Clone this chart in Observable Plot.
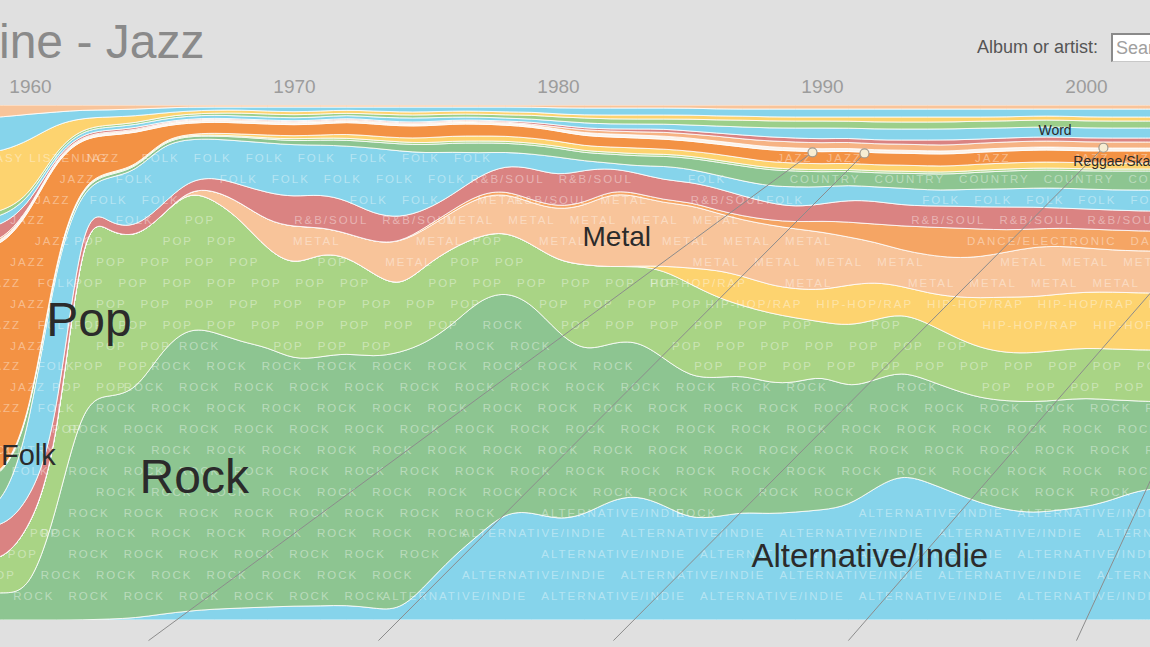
<!DOCTYPE html>
<html>
<head>
<meta charset="utf-8">
<script src="https://cdn.jsdelivr.net/npm/d3@7"></script>
<script src="https://cdn.jsdelivr.net/npm/@observablehq/plot@0.6"></script>
<style>
html,body{margin:0;padding:0;background:#e0e0e0;overflow:hidden;}
#wrap{position:relative;width:1150px;height:647px;overflow:hidden;font-family:'Liberation Sans',Arial,sans-serif;}
#chart{position:absolute;left:0;top:0;}
#title{position:absolute;left:-1px;top:18px;font-size:48px;line-height:48px;color:#8a8a8a;white-space:nowrap;}
#search{position:absolute;left:977px;top:38px;font-size:18px;line-height:18px;color:#555;white-space:nowrap;}
#box{position:absolute;left:1111px;top:33px;width:60px;height:26px;background:#fff;border-top:2px solid #8a8a8a;border-left:2px solid #8a8a8a;border-bottom:1px solid #c8c8c8;font-size:18px;line-height:26px;color:#a0a0a0;padding-left:3px;white-space:nowrap;overflow:hidden;}
</style>
</head>
<body>
<div id="wrap">
  <div id="chart"></div>
  <div id="title">ine - Jazz</div>
  <div id="search">Album or artist:</div>
  <div id="box">Search</div>
</div>
<script>
// ---- data (relative share of each genre per year, bottom to top of the stack) ----
const years = [1958,1959,1960,1961,1962,1963,1964,1965,1966,1967,1968,1969,1970,1971,1972,1973,1974,1975,1976,1977,1978,1979,1980,1981,1982,1983,1984,1985,1986,1987,1988,1989,1990,1991,1992,1993,1994,1995,1996,1997,1998,1999,2000,2001,2002,2003];

const altIndie = [0,0,0,0,0,1,2,6,9,11,12,13,14,14,15,12,9,35,63,85,108,108,100,105,120,125,115,101,103,108,106,108,110,114,132,146,138,127,117,110,107,110,113,120,130,132];
const rock = [27,27,28,108,220,223,226,264,284,277,266,260,246,249,252,251,258,242,232,235,221,209,187,163,157,155,147,142,139,137,131,129,135,118,108,103,102,103,105,109,111,110,109,100,89,86];
const pop = [33,33,64,57,188,164,154,134,137,132,122,97,94,104,97,83,65,78,77,64,60,59,72,87,76,74,88,93,81,69,70,65,53,62,60,58,57,53,50,48,49,50,50,51,51,52];
const hipHop = [0,0,0,0,0,0,0,0,0,0,0,0,0,0,0,0,0,0,0,0,0,0,0,0,0,0,4,16,27,30,28,29,32,41,38,27,30,40,50,56,56,56,56,57,57,57];
const metal = [0,0,0,0,0,0,0,0,1,10,17,29,39,26,23,32,45,36,36,39,38,41,51,59,74,70,63,63,57,56,60,60,58,48,40,36,38,39,41,45,50,48,44,42,42,42];
const dance = [0,0,0,0,0,0,0,0,0,0,0,0,0,0,0,0,0,2,2,3,3,3,3,3,3,3,3,3,3,4,5,7,11,15,18,24,28,30,28,22,18,18,19,20,20,20];
const rnbSoul = [33,33,28,25,11,8,10,11,9,13,18,28,30,33,33,28,25,17,15,18,25,32,31,33,22,20,20,20,22,20,17,15,17,22,23,21,21,22,22,23,22,20,20,20,20,20];
const folk = [15,22,72,172,14,47,56,60,41,38,44,50,52,49,54,66,67,57,43,23,13,14,19,9,5,7,14,13,13,15,17,20,17,15,14,17,16,16,18,18,19,20,20,20,21,21];
const country = [30,29,8,5,3,3,3,3,3,3,4,4,4,5,6,6,7,8,9,10,9,9,9,8,9,10,10,11,13,15,16,16,15,14,14,15,16,16,17,18,18,18,18,19,19,19];
const childrens = [1,1,1,1,1,1,1,1,1,1,1,1,2,2,2,2,2,2,2,2,2,2,2,2,2,2,2,2,2,2,2,2,2,2,2,2,2,2,2,2,2,2,2,2,2,2];
const vocal = [1,1,1,1,1,1,1,1,1,2,2,3,3,3,4,4,4,5,5,5,5,5,5,5,5,6,5,5,6,6,6,6,6,6,6,6,6,6,6,6,6,6,6,6,6,6];
const jazz = [230,229,206,91,44,37,34,14,11,11,11,11,11,11,12,12,12,12,12,12,11,11,10,10,10,10,10,10,10,11,12,12,12,12,12,12,12,12,12,12,12,12,12,12,12,12];
const reggaeSka = [3,3,3,2,2,2,2,2,2,2,2,2,2,2,2,2,2,2,2,2,2,2,2,3,3,3,3,3,3,3,3,3,3,3,3,3,3,3,3,3,3,3,3,3,3,3];
const soundtrack = [2,2,1,1,1,1,1,1,1,1,1,1,1,1,1,1,1,1,1,1,1,1,2,3,3,3,4,4,5,5,6,6,6,6,6,6,6,6,6,6,6,6,6,6,6,6];
const blues = [15,15,5,2,2,2,2,1,1,1,1,1,1,1,1,1,1,1,1,1,1,2,2,2,2,3,3,3,3,4,4,4,4,4,4,4,5,5,4,4,4,4,4,4,4,4];
const world = [9,9,5,3,3,3,3,3,3,3,3,3,3,3,3,3,4,4,3,3,3,3,4,5,5,5,5,6,7,8,9,10,11,10,11,11,11,11,11,10,10,10,10,10,10,10];
const christian = [5,5,3,3,2,2,2,2,2,2,3,3,3,3,2,3,3,3,3,3,3,4,4,5,5,5,5,6,6,7,7,7,7,7,7,7,7,7,7,7,7,7,7,7,7,7];
const easyListening = [62,60,55,25,10,8,7,4,3,3,3,3,3,3,3,3,3,3,3,3,3,3,3,3,4,4,4,4,4,4,4,4,4,4,5,5,5,5,4,4,4,4,4,4,4,4];
const classical = [36,34,26,12,8,7,7,5,4,3,3,4,5,4,3,4,5,5,4,4,5,5,6,7,7,7,7,7,7,7,8,8,8,8,8,8,8,8,8,8,7,7,8,8,8,8];
const oldies = [13,12,9,7,5,5,4,3,2,2,2,2,2,2,2,2,2,2,2,2,2,2,3,3,3,3,3,3,4,4,4,4,4,4,4,4,4,4,4,4,4,4,4,4,4,4];

const genres = ["Alternative/Indie","Rock","Pop","Hip-Hop/Rap","Metal","Dance/Electronic","R&B/Soul","Folk","Country","Children's","Vocal","Jazz","Reggae/Ska","Soundtrack","Blues","World","Christian/Gospel","Easy Listening","Classical","Oldies"];
const genreColors = ["#86d4eb","#8dc591","#a9d485","#fdd36f","#f8c49a","#f5a564","#da8382","#86d4eb","#8dc591","#a9d485","#fdd36f","#f39244","#fcf3ea","#f6b384","#da8382","#86d4eb","#9ccf8a","#fdd36f","#86d4eb","#f8c49a"];
const series = [altIndie,rock,pop,hipHop,metal,dance,rnbSoul,folk,country,childrens,vocal,jazz,reggaeSka,soundtrack,blues,world,christian,easyListening,classical,oldies];

const yearTicks = [1960,1970,1980,1990,2000];

// big in-chart labels
const labelText = ["Pop","Rock","Folk","Metal","Alternative/Indie","Word","Reggae/Ska"];
const labelYear = [1960.6,1964.13,1958.88,1980.91,1987.31,1998.18,1999.5];
const labelShare = [0.583,0.2765,0.319,0.744,0.1235,0.9505,0.8903];
const labelSize = [48,48,29,28,33,14,14];

// album pins and their leader lines
const pinYear = [1989.62,1991.59,2000.64,2007.12,2008.2];
const pinShare = [0.909,0.907,0.918,0.913,0.913];
const anchorYear = [1964.47,1973.18,1982.08,1990.98,1999.62];
const anchorShare = -0.039;

// ---- build tables ----
const table = [];
genres.forEach((g, gi) => years.forEach((yr, i) => table.push({year: yr, genre: g, value: series[gi][i]})));

const totals = years.map((_, i) => series.reduce((s, a) => s + a[i], 0));
const lower = series.map((_, gi) => years.map((_, i) => series.slice(0, gi).reduce((s, a) => s + a[i], 0) / totals[i]));
function band(gi, x) {
  const t = Math.max(0, Math.min(years.length - 1.0001, x - years[0]));
  const i = Math.floor(t), f = t - i;
  const lo = lower[gi][i] * (1 - f) + lower[gi][i + 1] * f;
  const th = (series[gi][i] / totals[i]) * (1 - f) + (series[gi][i + 1] / totals[i + 1]) * f;
  return [lo, lo + th];
}

// faint repeated genre names inside each band
const PAT_SIZE = 11.5, PAT_SPACING = 2;
const ctx = document.createElement("canvas").getContext("2d");
ctx.font = PAT_SIZE + "px 'Liberation Sans', Arial, sans-serif";
const pxPerYear = 1150 / (2002.424 - 1958.864);
const pattern = [];
const rowStep = 0.0405;
for (let k = 0; k < 25; k++) {
  const fy = 0.9786 - k * rowStep;
  genres.forEach((g, gi) => {
    const label = g.toUpperCase();
    const wpx = ctx.measureText(label).width + label.length * PAT_SPACING;
    const w = wpx / pxPerYear;
    const period = (wpx + 14) / pxPerYear;
    for (let x = 1958.3 + (k % 2) * period / 2; x < 2002.6; x += period) {
      const [lo, hi] = band(gi, x + w / 2);
      if (fy > lo + 0.0095 && fy < hi - 0.0095) pattern.push({x, y: fy, text: label});
    }
  });
}

const labels = labelText.map((t, i) => ({text: t, x: labelYear[i], y: labelShare[i], size: labelSize[i]}));
const annots = pinYear.map((p, i) => ({px: p, py: pinShare[i], ax: anchorYear[i], ay: anchorShare}));
const pins = annots.slice(0, 3);

const plot = Plot.plot({
  width: 1150, height: 647,
  marginTop: 105, marginBottom: 27, marginLeft: 0, marginRight: 0,
  x: {domain: [1958.864, 2002.424], label: null},
  y: {domain: [0, 1], axis: null},
  color: {domain: genres, range: genreColors},
  style: {background: "transparent", fontFamily: "'Liberation Sans', Arial, sans-serif"},
  marks: [
    Plot.areaY(table, {x: "year", y: "value", z: "genre", fill: "genre", order: genres, offset: "normalize", curve: "basis", stroke: "#ffffff", strokeWidth: 0.9, strokeOpacity: 0.9, clip: true}),
    Plot.text(pattern, {x: "x", y: "y", text: "text", textAnchor: "start", lineAnchor: "middle", fill: "#ffffff", fillOpacity: 0.4, fontSize: PAT_SIZE, clip: true}),
    Plot.link(annots, {x1: "ax", y1: "ay", x2: "px", y2: "py", stroke: "#8c8c8c", strokeWidth: 1}),
    Plot.dot(pins, {x: "px", y: "py", r: 4.5, fill: "#f7edd3", stroke: "#a09a90", strokeWidth: 1.2}),
    Plot.text(labels, {x: "x", y: "y", text: "text", fontSize: "size", textAnchor: "start", lineAnchor: "middle", fill: "#2b2b2b"}),
    Plot.axisX(yearTicks, {anchor: "top", tickSize: 0, tickPadding: 13, fontSize: 19, color: "#9c9c9c", tickFormat: d => String(d), label: null})
  ]
});
const upper = new Set(genres.map(g => g.toUpperCase()));
plot.querySelectorAll("text").forEach(t => {
  if (upper.has(t.textContent)) t.setAttribute("letter-spacing", PAT_SPACING);
});
document.getElementById("chart").appendChild(plot);
</script>
</body>
</html>
